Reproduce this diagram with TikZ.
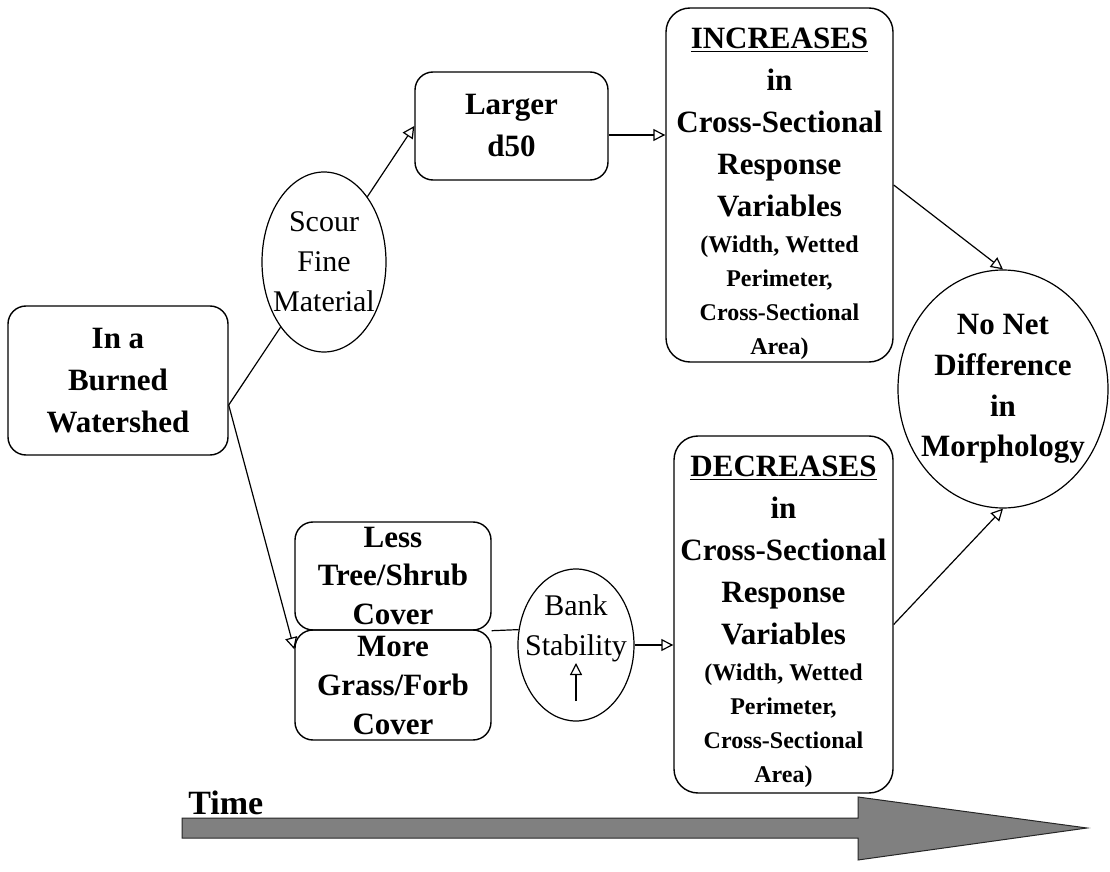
\documentclass[tikz,border=0pt]{standalone}
\usepackage{fontspec}
\setmainfont{Liberation Serif}
\usetikzlibrary{arrows.meta,shapes.geometric}
\newcommand{\bigtxt}{\bfseries\fontsize{15.5}{21}\selectfont}
\newcommand{\pairtxt}{\bfseries\fontsize{15.5}{19.5}\selectfont}
\newcommand{\smalltxt}{\fontsize{12}{17}\selectfont}
\newcommand{\topgap}[1]{\rule{0pt}{#1}}
\tikzset{
    box/.style={draw,rounded corners=9pt,line width=0.7pt,align=center,inner sep=0pt,font=\bigtxt},
    oval/.style={draw,ellipse,fill=white,line width=0.6pt,align=center,inner sep=-14pt,font=\fontsize{15}{20}\selectfont},
    link/.style={line width=0.6pt},
    flow/.style={link,-{Triangle[open,length=6pt,width=6pt]}},
    timebar/.style={fill=black!50,draw=black!85,line width=0.5pt}
}

\begin{document}
\begin{tikzpicture}[x=0.5pt,y=-0.5pt]
    \useasboundingbox (0,0) rectangle (1110,872);
    % --- --- --- nodes
    \node[box,minimum width=110pt,minimum height=74.5pt] (burned) at (118,380.5) {In a\\ Burned\\ Watershed};
    \node[oval,minimum width=62pt,minimum height=90pt] (scour) at (324,262) {Scour\\ Fine\\ Material};
    \node[box,minimum width=96.5pt,minimum height=54pt] (larger) at (511.5,126) {Larger\\ d50};
    \node[box,rounded corners=12pt,minimum width=113.5pt,minimum height=177pt] (incr) at (779.5,185) {\topgap{19pt}\underline{INCREASES}\\ in\\ Cross-Sectional\\ Response\\ Variables\\[-3pt] \smalltxt (Width, Wetted\\[-4pt] \smalltxt Perimeter,\\[-4pt] \smalltxt Cross-Sectional\\[-4pt] \smalltxt Area)};
    \node[oval,font=\fontsize{15.5}{20.3}\selectfont\bfseries,minimum width=105pt,minimum height=119pt] (morph) at (1003,389) {No Net\\ Difference\\ in\\ Morphology};
    \node[box,font=\pairtxt,minimum width=98pt,minimum height=54pt] (less) at (393,576) {Less\\ Tree/Shrub\\ Cover};
    \node[box,font=\pairtxt,minimum width=98pt,minimum height=55pt] (more) at (393,685) {More\\ Grass/Forb\\ Cover};
    \node[oval,minimum width=58pt,minimum height=76pt] (bank) at (576,645) {Bank\\ Stability\\ \mbox{}};
    \node[box,rounded corners=12pt,minimum width=109.5pt,minimum height=178.5pt] (decr) at (783.5,614.5) {\topgap{17.5pt}\underline{DECREASES}\\ in\\ Cross-Sectional\\ Response\\ Variables\\[-3pt] \smalltxt (Width, Wetted\\[-4pt] \smalltxt Perimeter,\\[-4pt] \smalltxt Cross-Sectional\\[-4pt] \smalltxt Area)};
    % --- --- --- connectors
    \coordinate (fork) at ([yshift=-12.25pt]burned.east);
    \draw[link] (fork) -- (scour);
    \draw[flow] (scour) -- (larger.west);
    \draw[flow] (fork) -- ([yshift=-10pt]more.north west);
    \draw[flow] ([yshift=-4.5pt]larger.east) -- ([yshift=-4.5pt]larger.east -| incr.west);
    \draw[flow] (incr.east) -- (morph.north);
    \draw[flow] ([yshift=-5pt]decr.east) -- (morph.south);
    \draw[link] (less.south east) -- (bank.165);
    \draw[flow] (bank.east) -- (bank.east -| decr.west);
    \draw[flow] ([yshift=-28pt]bank.center) -- ([yshift=-9pt]bank.center);
    % --- --- --- time
    \node[font=\bfseries\fontsize{17}{20}\selectfont,anchor=south west,inner sep=0pt] (time) at (188,815) {Time};
    \draw[timebar] (182,818) -- (858,818) -- (858,797) -- (1087,828) -- (858,860) -- (858,838) -- (182,838) -- cycle;
\end{tikzpicture}
\end{document}
